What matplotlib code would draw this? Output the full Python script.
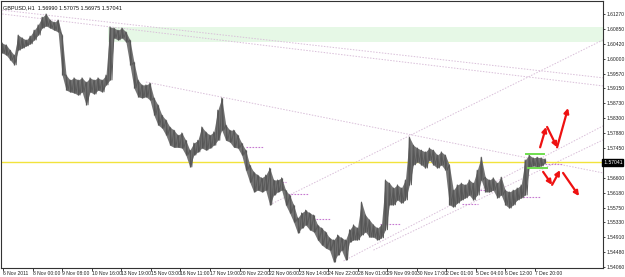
import matplotlib as mpl

mpl.use("Agg")

import matplotlib.pyplot as plt
import numpy as np

plt.rcParams["font.family"] = ["Liberation Sans Narrow", "Liberation Sans", "DejaVu Sans"]

SYMBOL_INFO = "GBPUSD,H1  1.56990 1.57075 1.56975 1.57041"
CURRENT_PRICE = 1.57041

# high / low of the price band, one sample every ~4 hourly bars
highs = [
    1.6044, 1.6039, 1.6024, 1.6010, 1.6067, 1.6059, 1.6053, 1.6064, 1.6081, 1.6096,
    1.6118, 1.6127, 1.6110, 1.6104, 1.6110, 1.6067, 1.5953, 1.5939, 1.5945, 1.5939,
    1.5945, 1.5933, 1.5945, 1.5939, 1.5945, 1.5939, 1.5953, 1.6090, 1.6087, 1.6081,
    1.6087, 1.6076, 1.6053, 1.5990, 1.5939, 1.5925, 1.5925, 1.5930, 1.5888, 1.5868,
    1.5839, 1.5825, 1.5805, 1.5796, 1.5782, 1.5788, 1.5767, 1.5739, 1.5759, 1.5767,
    1.5805, 1.5791, 1.5782, 1.5791, 1.5853, 1.5888, 1.5811, 1.5796, 1.5796, 1.5782,
    1.5759, 1.5739, 1.5697, 1.5677, 1.5668, 1.5660, 1.5668, 1.5688, 1.5654, 1.5654,
    1.5660, 1.5625, 1.5611, 1.5583, 1.5546, 1.5560, 1.5568, 1.5560, 1.5554, 1.5526,
    1.5517, 1.5506, 1.5489, 1.5483, 1.5497, 1.5489, 1.5483, 1.5512, 1.5526, 1.5517,
    1.5591, 1.5554, 1.5540, 1.5526, 1.5517, 1.5526, 1.5654, 1.5645, 1.5631, 1.5640,
    1.5631, 1.5654, 1.5776, 1.5753, 1.5745, 1.5739, 1.5734, 1.5745, 1.5739, 1.5725,
    1.5734, 1.5725, 1.5697, 1.5625, 1.5640, 1.5645, 1.5640, 1.5654, 1.5645, 1.5682,
    1.5719, 1.5662, 1.5654, 1.5660, 1.5645, 1.5662, 1.5625, 1.5620, 1.5625, 1.5631,
    1.5640, 1.5711, 1.5725, 1.5717, 1.5719, 1.5717, 1.5714,
]
lows = [
    1.6016, 1.6010, 1.5996, 1.5982, 1.6024, 1.6030, 1.6036, 1.6042, 1.6053, 1.6067,
    1.6087, 1.6093, 1.6087, 1.6081, 1.6076, 1.5953, 1.5910, 1.5905, 1.5902, 1.5896,
    1.5905, 1.5868, 1.5905, 1.5899, 1.5910, 1.5905, 1.5925, 1.5939, 1.6059, 1.6053,
    1.6059, 1.6047, 1.5982, 1.5916, 1.5891, 1.5888, 1.5891, 1.5882, 1.5839, 1.5811,
    1.5802, 1.5782, 1.5753, 1.5747, 1.5747, 1.5745, 1.5725, 1.5691, 1.5725, 1.5734,
    1.5745, 1.5739, 1.5745, 1.5753, 1.5767, 1.5796, 1.5767, 1.5762, 1.5747, 1.5745,
    1.5725, 1.5682, 1.5648, 1.5620, 1.5625, 1.5620, 1.5625, 1.5583, 1.5611, 1.5620,
    1.5625, 1.5583, 1.5560, 1.5534, 1.5503, 1.5517, 1.5526, 1.5512, 1.5506, 1.5483,
    1.5469, 1.5460, 1.5454, 1.5420, 1.5440, 1.5454, 1.5426, 1.5477, 1.5483, 1.5483,
    1.5497, 1.5506, 1.5491, 1.5491, 1.5483, 1.5489, 1.5512, 1.5583, 1.5583, 1.5597,
    1.5588, 1.5597, 1.5640, 1.5697, 1.5705, 1.5697, 1.5688, 1.5711, 1.5697, 1.5688,
    1.5697, 1.5682, 1.5583, 1.5577, 1.5588, 1.5597, 1.5603, 1.5611, 1.5597, 1.5611,
    1.5654, 1.5620, 1.5620, 1.5625, 1.5603, 1.5611, 1.5583, 1.5574, 1.5583, 1.5597,
    1.5603, 1.5611, 1.5688, 1.5694, 1.5691, 1.5694, 1.5702,
]

price_ticks = [1.61270, 1.60850, 1.60420, 1.60000, 1.59570, 1.59150, 1.58730, 1.58300,
               1.57880, 1.57450, 1.56600, 1.56180, 1.55750, 1.55330, 1.54910, 1.54480,
               1.54060]
time_labels = ["6 Nov 2011", "8 Nov 00:00", "9 Nov 08:00", "10 Nov 16:00", "13 Nov 19:00",
               "15 Nov 03:00", "16 Nov 11:00", "17 Nov 19:00", "20 Nov 22:00", "22 Nov 06:00",
               "23 Nov 14:00", "24 Nov 22:00", "28 Nov 01:00", "29 Nov 09:00", "30 Nov 17:00",
               "2 Dec 01:00", "5 Dec 04:00", "6 Dec 12:00", "7 Dec 20:00"]

# drawn objects on the chart (sample index, price)
trendlines = [
    ((0.0, 1.6138), (150.5, 1.5945)),
    ((0.0, 1.6127), (150.5, 1.5922)),
    ((36.0, 1.5933), (150.5, 1.5674)),
    ((67.0, 1.5583), (150.5, 1.6053)),
    ((85.5, 1.5423), (150.5, 1.5808)),
    ((93.0, 1.5454), (150.5, 1.5768)),
]
levels = [  # (start, end, price)
    (61.0, 65.5, 1.5747), (67.75, 71.0, 1.5648), (71.5, 76.5, 1.5614),
    (78.5, 82.25, 1.5543), (83.0, 85.5, 1.5454), (89.75, 94.0, 1.5506),
    (94.75, 99.75, 1.5528), (106.0, 110.0, 1.5711), (115.25, 119.25, 1.5586),
    (119.75, 126.5, 1.5625), (129.0, 134.75, 1.5605), (135.25, 140.25, 1.5699),
]
box_levels = [(131.25, 135.75, 1.5728), (131.75, 136.5, 1.5688)]
zone = (26.5, 1.6047, 1.6090)
arrows = [  # (tail, tip)
    ((134.75, 1.5747), (136.25, 1.5805)),
    ((136.5, 1.5805), (139.0, 1.5747)),
    ((139.0, 1.5747), (141.75, 1.5859)),
    ((135.5, 1.5677), (137.75, 1.5640)),
    ((137.75, 1.5640), (139.75, 1.5682)),
    ((140.5, 1.5674), (144.5, 1.5608)),
]

W, H = 625, 277
fig = plt.figure(figsize=(W / 100, H / 100), dpi=100)
ax = fig.add_axes([1 / W, 9 / H, 602 / W, 267 / H])
x_max = 150.5
ax.set_xlim(-0.3, x_max)
ax.set_ylim(1.5403, 1.6164)

ax.fill_between([zone[0], x_max], zone[1], zone[2], color="#e6f8e6", lw=0, zorder=0)

for (x0, y0), (x1, y1) in trendlines:
    ax.plot([x0, x1], [y0, y1], color="#d9bfd9", lw=0.7, ls=(0, (1.5, 1.5)), zorder=1)
for x0, x1, y in levels:
    ax.plot([x0, x1], [y, y], color="#c678d0", lw=0.8, ls=(0, (1.5, 1.2)), zorder=1)

ax.axhline(CURRENT_PRICE, color="#f2e33c", lw=1.0, zorder=2)

xs = np.arange(len(highs))
hi = np.array(highs)
lo = np.array(lows)
ax.fill_between(xs, lo, hi, color="#757575", lw=0, zorder=3)
ax.vlines(xs, lo, hi, color="#555555", lw=0.9, zorder=3)
zig_x = np.ravel(np.column_stack([xs, xs + 0.5]))
zig_y = np.ravel(np.column_stack([hi, lo]))
ax.plot(zig_x[:-1], zig_y[:-1], color="#5a5a5a", lw=0.7, zorder=3)

for x0, x1, y in box_levels:
    ax.plot([x0, x1], [y, y], color="#6ede4e", lw=1.4, zorder=4)

for tail, tip in arrows:
    ax.annotate("", xy=tip, xytext=tail,
                arrowprops=dict(arrowstyle="-|>", color="#ee1111", lw=1.6,
                                mutation_scale=7, shrinkA=0, shrinkB=0), zorder=5)

ax.text(0.004, 0.985, SYMBOL_INFO, transform=ax.transAxes, fontsize=4.0,
        va="top", ha="left", color="#111111")

for s in ax.spines.values():
    s.set_color("#333333")
    s.set_linewidth(0.8)

ax.yaxis.tick_right()
ax.set_yticks(price_ticks)
ax.set_yticklabels([f"{p:.5f}" for p in price_ticks])
ax.tick_params(axis="y", length=1.5, width=0.6, pad=1, labelsize=3.6, colors="#222222")
ax.text(1.0, CURRENT_PRICE, f" {CURRENT_PRICE:.5f}", transform=ax.get_yaxis_transform(),
        fontsize=3.6, color="white", va="center", ha="left",
        bbox=dict(boxstyle="square,pad=0.15", fc="black", ec="black"))

tick_pos = 0.25 + 7.4 * np.arange(len(time_labels))
ax.set_xticks(tick_pos)
ax.set_xticklabels(time_labels, ha="left")
ax.tick_params(axis="x", length=2, width=0.6, pad=0.5, labelsize=3.6, colors="#222222")

fig.savefig("out.png", dpi=100, facecolor="white")
